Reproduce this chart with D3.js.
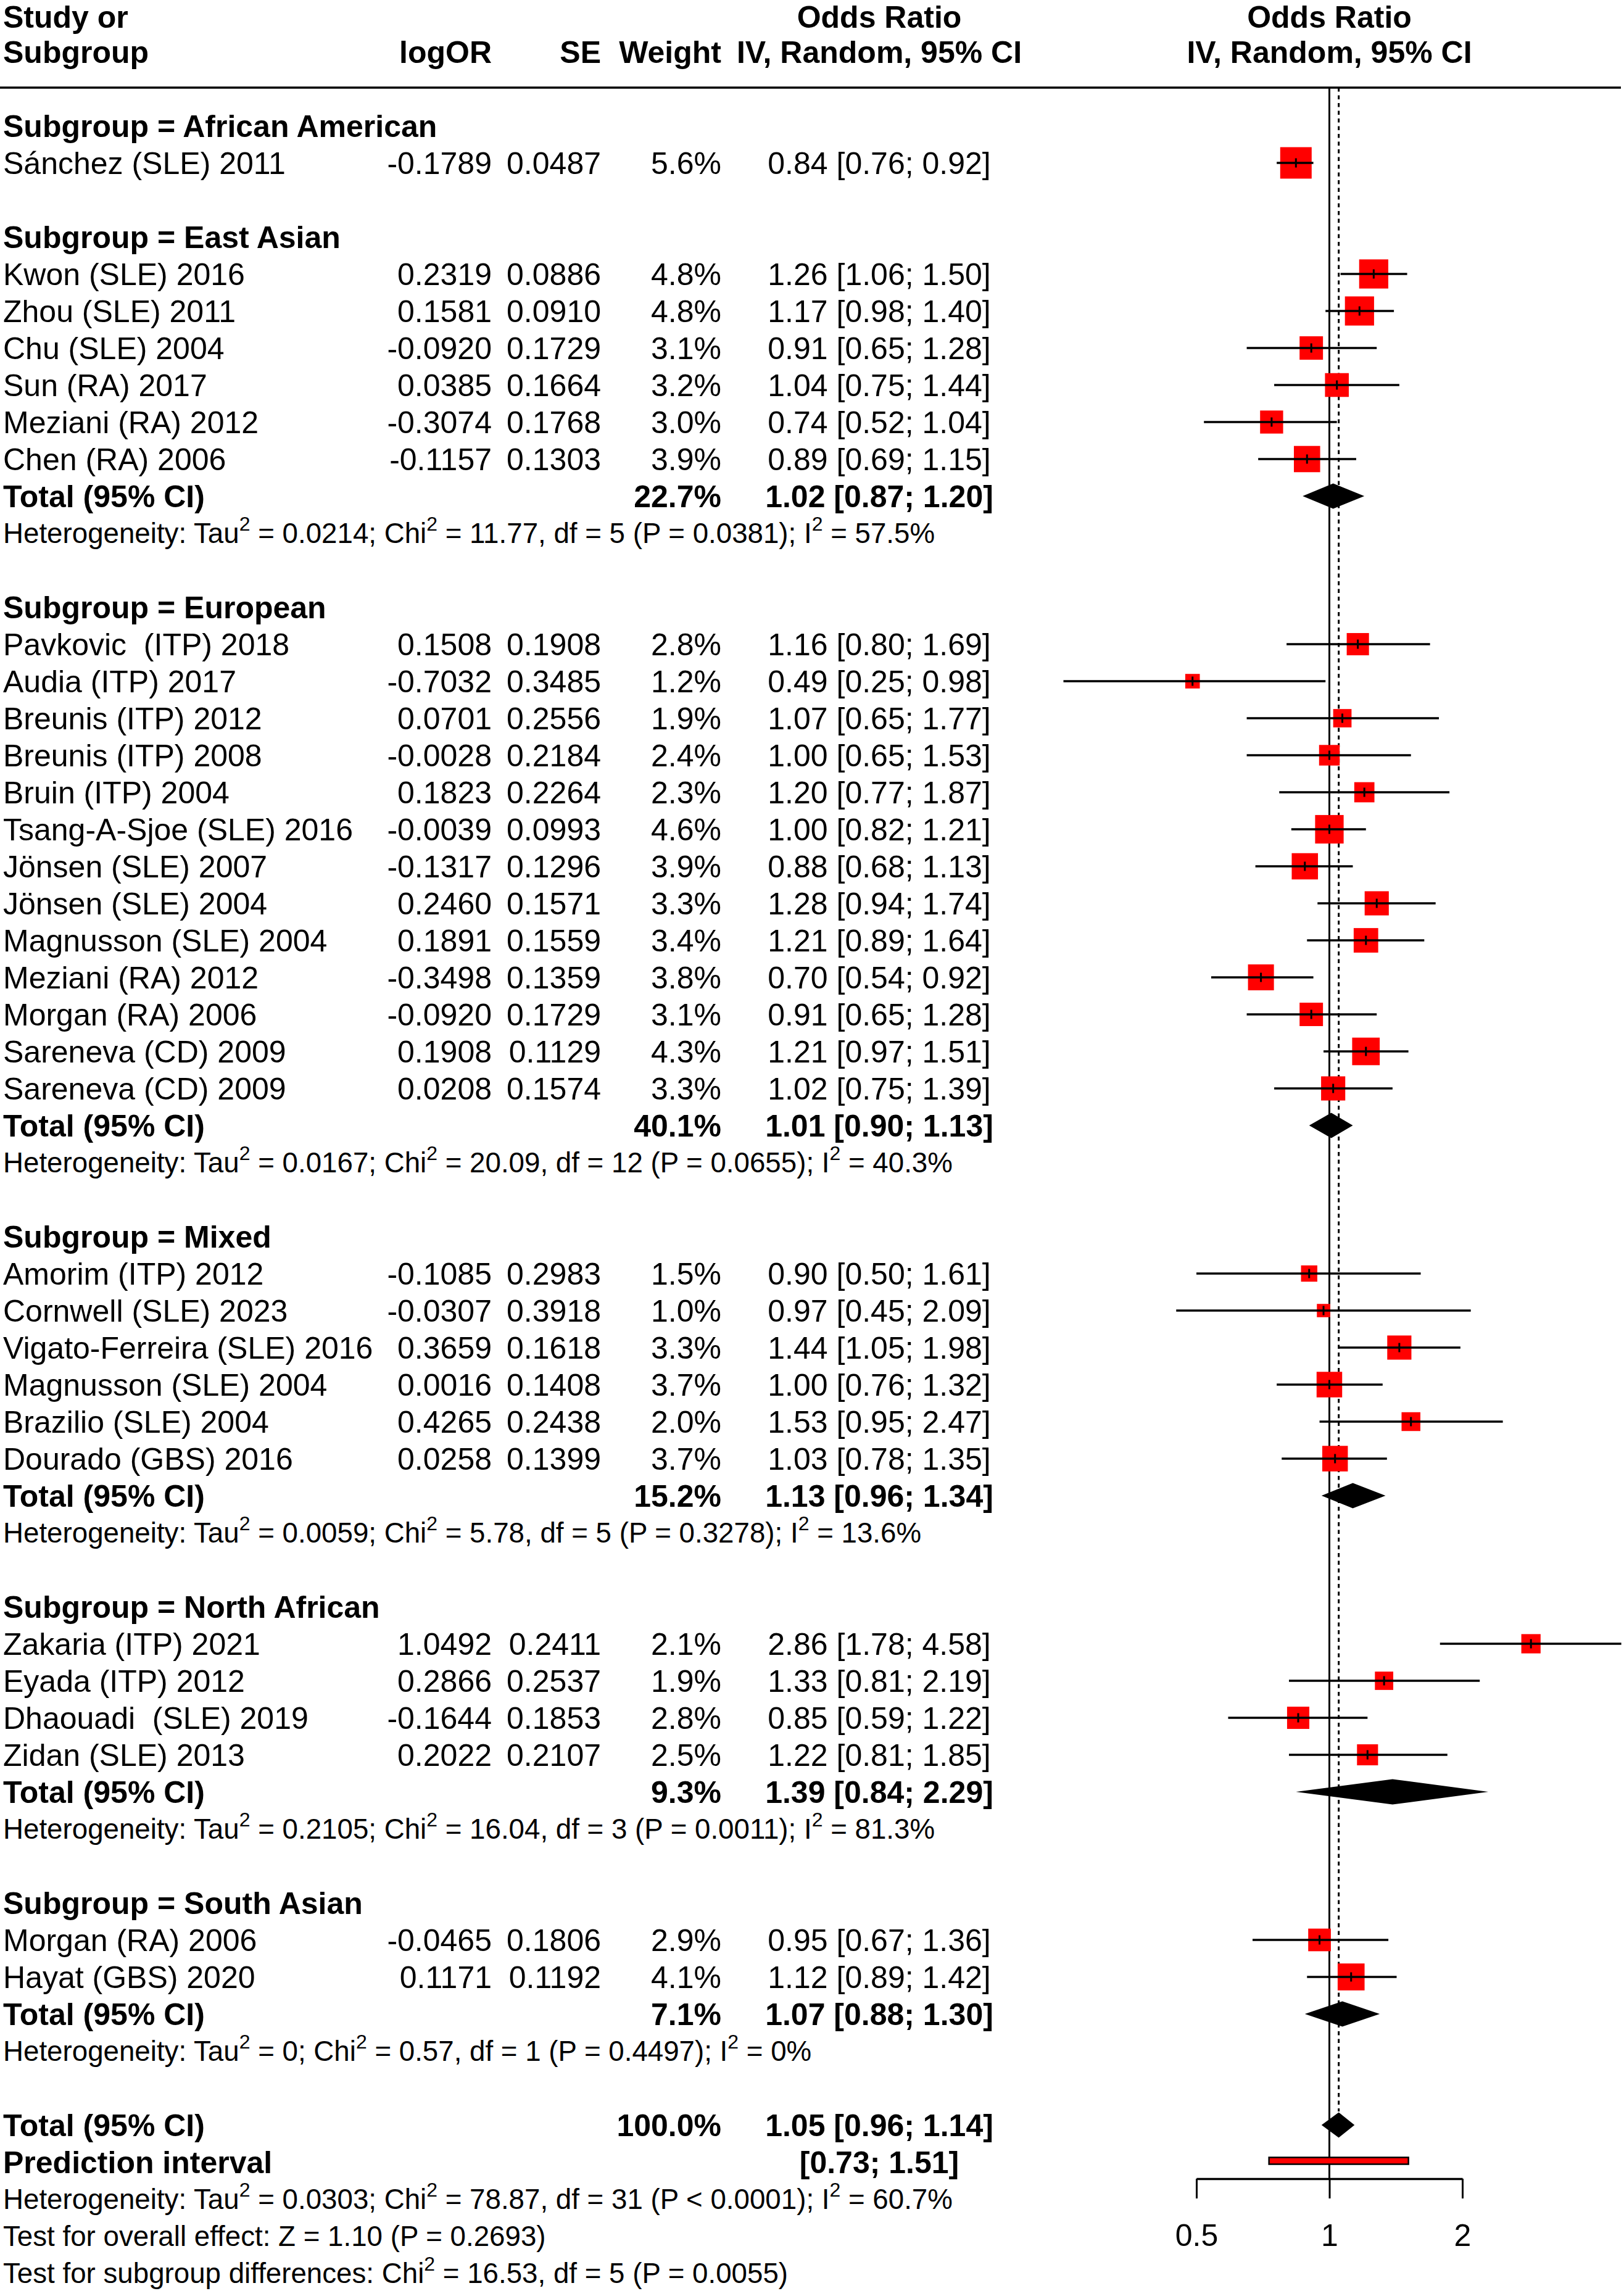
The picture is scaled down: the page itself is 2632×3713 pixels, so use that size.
<!DOCTYPE html>
<html>
<head>
<meta charset="utf-8">
<script src="https://cdn.jsdelivr.net/npm/d3@7"></script>
<style>
  body { margin: 0; background: #fff; }
  svg text { font-family: "Liberation Sans", Arial, Helvetica, sans-serif; white-space: pre; fill: #000; }
</style>
</head>
<body>
<svg width="2632" height="3713"></svg>
<script>
const width = 2632, height = 3713;

// subgroups, in plotting order
const subgroups = ["African American", "East Asian", "European", "Mixed", "North African", "South Asian"];

// studies (column arrays)
const studyGroup = [0,
  1, 1, 1, 1, 1, 1,
  2, 2, 2, 2, 2, 2, 2, 2, 2, 2, 2, 2, 2,
  3, 3, 3, 3, 3, 3,
  4, 4, 4, 4,
  5, 5];
const studyLabels = ["Sánchez (SLE) 2011",
  "Kwon (SLE) 2016", "Zhou (SLE) 2011", "Chu (SLE) 2004", "Sun (RA) 2017", "Meziani (RA) 2012", "Chen (RA) 2006",
  "Pavkovic  (ITP) 2018", "Audia (ITP) 2017", "Breunis (ITP) 2012", "Breunis (ITP) 2008", "Bruin (ITP) 2004",
  "Tsang-A-Sjoe (SLE) 2016", "Jönsen (SLE) 2007", "Jönsen (SLE) 2004", "Magnusson (SLE) 2004", "Meziani (RA) 2012",
  "Morgan (RA) 2006", "Sareneva (CD) 2009", "Sareneva (CD) 2009",
  "Amorim (ITP) 2012", "Cornwell (SLE) 2023", "Vigato-Ferreira (SLE) 2016", "Magnusson (SLE) 2004",
  "Brazilio (SLE) 2004", "Dourado (GBS) 2016",
  "Zakaria (ITP) 2021", "Eyada (ITP) 2012", "Dhaouadi  (SLE) 2019", "Zidan (SLE) 2013",
  "Morgan (RA) 2006", "Hayat (GBS) 2020"];
const logOR = [-0.1789,
  0.2319, 0.1581, -0.0920, 0.0385, -0.3074, -0.1157,
  0.1508, -0.7032, 0.0701, -0.0028, 0.1823, -0.0039, -0.1317, 0.2460, 0.1891, -0.3498, -0.0920, 0.1908, 0.0208,
  -0.1085, -0.0307, 0.3659, 0.0016, 0.4265, 0.0258,
  1.0492, 0.2866, -0.1644, 0.2022,
  -0.0465, 0.1171];
const seLog = [0.0487,
  0.0886, 0.0910, 0.1729, 0.1664, 0.1768, 0.1303,
  0.1908, 0.3485, 0.2556, 0.2184, 0.2264, 0.0993, 0.1296, 0.1571, 0.1559, 0.1359, 0.1729, 0.1129, 0.1574,
  0.2983, 0.3918, 0.1618, 0.1408, 0.2438, 0.1399,
  0.2411, 0.2537, 0.1853, 0.2107,
  0.1806, 0.1192];
const weights = [5.6,
  4.8, 4.8, 3.1, 3.2, 3.0, 3.9,
  2.8, 1.2, 1.9, 2.4, 2.3, 4.6, 3.9, 3.3, 3.4, 3.8, 3.1, 4.3, 3.3,
  1.5, 1.0, 3.3, 3.7, 2.0, 3.7,
  2.1, 1.9, 2.8, 2.5,
  2.9, 4.1];
const orEst = [0.84,
  1.26, 1.17, 0.91, 1.04, 0.74, 0.89,
  1.16, 0.49, 1.07, 1.00, 1.20, 1.00, 0.88, 1.28, 1.21, 0.70, 0.91, 1.21, 1.02,
  0.90, 0.97, 1.44, 1.00, 1.53, 1.03,
  2.86, 1.33, 0.85, 1.22,
  0.95, 1.12];
const ciLow = [0.76,
  1.06, 0.98, 0.65, 0.75, 0.52, 0.69,
  0.80, 0.25, 0.65, 0.65, 0.77, 0.82, 0.68, 0.94, 0.89, 0.54, 0.65, 0.97, 0.75,
  0.50, 0.45, 1.05, 0.76, 0.95, 0.78,
  1.78, 0.81, 0.59, 0.81,
  0.67, 0.89];
const ciHigh = [0.92,
  1.50, 1.40, 1.28, 1.44, 1.04, 1.15,
  1.69, 0.98, 1.77, 1.53, 1.87, 1.21, 1.13, 1.74, 1.64, 0.92, 1.28, 1.51, 1.39,
  1.61, 2.09, 1.98, 1.32, 2.47, 1.35,
  4.58, 2.19, 1.22, 1.85,
  1.36, 1.42];

// subgroup pooled results (random effects)
const groupWeight = [null, 22.7, 40.1, 15.2, 9.3, 7.1];
const groupOR = [null, 1.02, 1.01, 1.13, 1.39, 1.07];
const groupLow = [null, 0.87, 0.90, 0.96, 0.84, 0.88];
const groupHigh = [null, 1.20, 1.13, 1.34, 2.29, 1.30];
const groupTau2 = [null, "0.0214", "0.0167", "0.0059", "0.2105", "0"];
const groupChi2 = [null, "11.77", "20.09", "5.78", "16.04", "0.57"];
const groupDf = [null, 5, 12, 5, 3, 1];
const groupP = [null, "= 0.0381", "= 0.0655", "= 0.3278", "= 0.0011", "= 0.4497"];
const groupI2 = [null, "57.5%", "40.3%", "13.6%", "81.3%", "0%"];

// overall
const overall = [1.05, 0.96, 1.14];      // OR, lower, upper
const predInterval = [0.73, 1.51];
const overallHet = ["0.0303", "78.87", 31, "< 0.0001", "60.7%"];
const overallTest = ["1.10", "0.2693"];
const subgroupTest = ["16.53", 5, "0.0055"];
const axisTicks = [0.5, 1, 2];

const svg = d3.select("svg");
svg.append("rect").attr("width", width).attr("height", height).attr("fill", "#fff");

const fs = 50, fsHet = 45.7;
const y = d3.scaleLinear().domain([0, 1]).range([204, 264]);
const x = d3.scaleLog().base(2).domain([0.5, 2]).range([1939, 2370]);
const size = d3.scaleSqrt().domain([0, 5.6]).range([0, 51]);

const colStudy = 5, colLog = 797, colSE = 974, colW = 1169, colCI = 1425;
const fmt2 = v => v.toFixed(2), fmt4 = v => v.toFixed(4);
const ciText = (o, l, h) => `${fmt2(o)} [${fmt2(l)}; ${fmt2(h)}]`;

function txt(xx, row, s, anchor, bold, size0) {
  const f = size0 || fs;
  svg.append("text")
    .attr("x", xx)
    .attr("y", y(row) + 0.352 * f)
    .attr("font-size", f)
    .attr("font-weight", bold ? "bold" : "normal")
    .attr("text-anchor", anchor || "start")
    .text(s);
}

// text with superscript "2" pieces: array of [string, isSup]
function supText(row, pieces) {
  const t = svg.append("text")
    .attr("x", colStudy)
    .attr("y", y(row) + 0.352 * fsHet)
    .attr("font-size", fsHet);
  const shift = 20;
  let raised = false;
  pieces.forEach(([s, sup]) => {
    const sp = t.append("tspan").text(s);
    if (sup && !raised) { sp.attr("dy", -shift).attr("font-size", fsHet * 0.7); raised = true; }
    else if (sup) { sp.attr("font-size", fsHet * 0.7); }
    else if (raised) { sp.attr("dy", shift); raised = false; }
  });
}

function hetPieces(tau, chi, df, p, i2) {
  return [["Heterogeneity: Tau"], ["2", true], [` = ${tau}; Chi`], ["2", true],
          [` = ${chi}, df = ${df} (P ${p}); I`], ["2", true], [` = ${i2}`]];
}

// header (first line nudged down a little so it stays inside the page)
txt(colStudy, -2.94, "Study or", "start", true);
txt(colStudy, -2, "Subgroup", "start", true);
txt(colLog, -2, "logOR", "end", true);
txt(colSE, -2, "SE", "end", true);
txt(colW, -2, "Weight", "end", true);
txt(colCI, -2.94, "Odds Ratio", "middle", true);
txt(colCI, -2, "IV, Random, 95% CI", "middle", true);
txt(x(1), -2.94, "Odds Ratio", "middle", true);
txt(x(1), -2, "IV, Random, 95% CI", "middle", true);

const headerY = 142;
svg.append("line").attr("x1", 0).attr("x2", 2627).attr("y1", headerY).attr("y2", headerY)
  .attr("stroke", "#000").attr("stroke-width", 3.5);

// build rows
const studyRows = [], totalRows = [];
let r = 0;
subgroups.forEach((g, gi) => {
  txt(colStudy, r, `Subgroup = ${g}`, "start", true);
  r++;
  studyGroup.forEach((sg, i) => {
    if (sg !== gi) return;
    studyRows.push({ i, row: r });
    r++;
  });
  if (groupOR[gi] != null) {
    totalRows.push({ row: r, or: groupOR[gi], lo: groupLow[gi], hi: groupHigh[gi] });
    txt(colStudy, r, "Total (95% CI)", "start", true);
    txt(colW, r, `${groupWeight[gi].toFixed(1)}%`, "end", true);
    txt(colCI, r, ciText(groupOR[gi], groupLow[gi], groupHigh[gi]), "middle", true);
    r++;
    supText(r, hetPieces(groupTau2[gi], groupChi2[gi], groupDf[gi], groupP[gi], groupI2[gi]));
    r++;
  }
  r++;
});

const overallRow = r;
txt(colStudy, r, "Total (95% CI)", "start", true);
txt(colW, r, "100.0%", "end", true);
txt(colCI, r, ciText(overall[0], overall[1], overall[2]), "middle", true);
totalRows.push({ row: r, or: overall[0], lo: overall[1], hi: overall[2] });
txt(colStudy, r + 1, "Prediction interval", "start", true);
txt(colCI, r + 1, `[${fmt2(predInterval[0])}; ${fmt2(predInterval[1])}]`, "middle", true);
supText(r + 2, hetPieces(...overallHet));
supText(r + 3, [[`Test for overall effect: Z = ${overallTest[0]} (P = ${overallTest[1]})`]]);
supText(r + 4, [["Test for subgroup differences: Chi"], ["2", true],
                [` = ${subgroupTest[0]}, df = ${subgroupTest[1]} (P = ${subgroupTest[2]})`]]);

// study columns
studyRows.forEach(({ i, row }) => {
  txt(colStudy, row, studyLabels[i]);
  txt(colLog, row, fmt4(logOR[i]), "end");
  txt(colSE, row, fmt4(seLog[i]), "end");
  txt(colW, row, `${weights[i].toFixed(1)}%`, "end");
  txt(colCI, row, ciText(orEst[i], ciLow[i], ciHigh[i]), "middle");
});

// plot: reference lines
const axisY = y(overallRow + 1) + 27;
svg.append("line").attr("x1", x(1)).attr("x2", x(1)).attr("y1", headerY).attr("y2", axisY)
  .attr("stroke", "#000").attr("stroke-width", 3);
svg.append("line").attr("x1", x(overall[0])).attr("x2", x(overall[0]))
  .attr("y1", headerY).attr("y2", y(overallRow) - 22)
  .attr("stroke", "#000").attr("stroke-width", 3).attr("stroke-dasharray", "6.5,6");

// study squares and CIs
const marks = svg.append("g");
studyRows.forEach(({ i, row }) => {
  const cy = y(row), s = size(weights[i]);
  marks.append("rect")
    .attr("x", x(orEst[i]) - s / 2).attr("y", cy - s / 2)
    .attr("width", s).attr("height", s)
    .attr("fill", "#ff0000");
  marks.append("line")
    .attr("x1", x(ciLow[i])).attr("x2", x(ciHigh[i]))
    .attr("y1", cy).attr("y2", cy)
    .attr("stroke", "#000").attr("stroke-width", 3.3);
  marks.append("line")
    .attr("x1", x(orEst[i])).attr("x2", x(orEst[i]))
    .attr("y1", cy - 7.5).attr("y2", cy + 7.5)
    .attr("stroke", "#000").attr("stroke-width", 3);
});

// diamonds
totalRows.forEach(d => {
  const cy = y(d.row), hh = 20.5;
  marks.append("path")
    .attr("d", `M${x(d.lo)},${cy}L${x(d.or)},${cy - hh}L${x(d.hi)},${cy}L${x(d.or)},${cy + hh}Z`)
    .attr("fill", "#000");
});

// prediction interval
const py = y(overallRow + 1) - 2;
marks.append("rect")
  .attr("x", x(predInterval[0])).attr("y", py - 5.5)
  .attr("width", x(predInterval[1]) - x(predInterval[0])).attr("height", 11)
  .attr("fill", "#ff0000").attr("stroke", "#000").attr("stroke-width", 2.5);

// axis
const axis = d3.axisBottom(x)
  .tickValues(axisTicks)
  .tickFormat(d3.format(""))
  .tickSize(32)
  .tickSizeOuter(0)
  .tickPadding(41);
const ga = svg.append("g").attr("transform", `translate(0,${axisY})`).call(axis);
ga.select(".domain").attr("stroke-width", 3.5);
ga.selectAll(".tick line").attr("stroke-width", 3);
ga.selectAll(".tick text")
  .attr("font-size", fs)
  .attr("font-family", "'Liberation Sans', Arial, Helvetica, sans-serif");
</script>
</body>
</html>
